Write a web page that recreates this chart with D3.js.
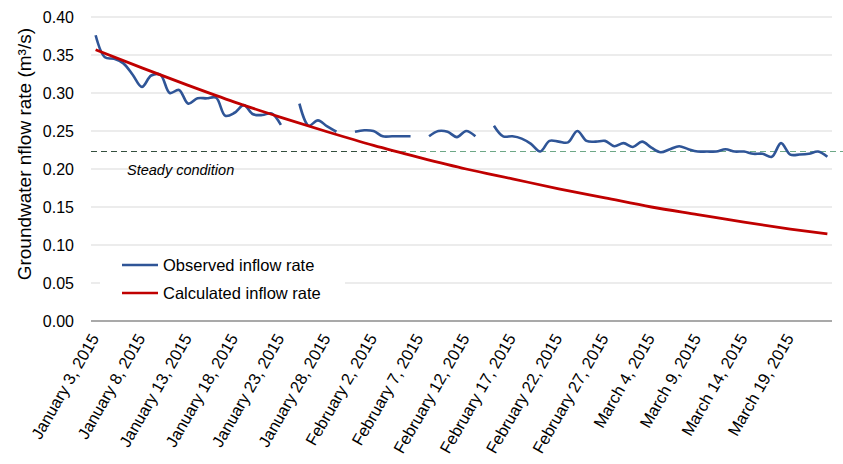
<!DOCTYPE html>
<html>
<head>
<meta charset="utf-8">
<script src="https://cdn.jsdelivr.net/npm/d3@7"></script>
<style>
  html, body { margin: 0; padding: 0; background: #fff; }
  svg { display: block; }
  text { font-family: "Liberation Sans", Arial, sans-serif; fill: #000; }
</style>
</head>
<body>
<svg id="chart" width="843" height="464"></svg>
<script>
// ---------------- DATA ----------------
const startDate = new Date(2015, 0, 3);
const dayCount = 80; // Jan 3 .. Mar 23, 2015

const tickLabels = [
  "January 3, 2015", "January 8, 2015", "January 13, 2015", "January 18, 2015",
  "January 23, 2015", "January 28, 2015", "February 2, 2015", "February 7, 2015",
  "February 12, 2015", "February 17, 2015", "February 22, 2015", "February 27, 2015",
  "March 4, 2015", "March 9, 2015", "March 14, 2015", "March 19, 2015"
];
const tickDays = [0, 5, 10, 15, 20, 25, 30, 35, 40, 45, 50, 55, 60, 65, 70, 75];

// Observed inflow rate (m3/s), one value per day, null = no data
const observed = [
  0.376, 0.347, 0.345, 0.339, 0.324, 0.308, 0.323, 0.324, 0.300, 0.304,
  0.286, 0.293, 0.293, 0.294, 0.270, 0.274, 0.284, 0.272, 0.271, 0.273,
  0.258, null,  0.286, 0.257, 0.264, 0.256, 0.249, null,  0.249, 0.251,
  0.250, 0.243, 0.243, 0.243, 0.243, null,  0.243, 0.250, 0.249, 0.242,
  0.250, 0.243, null,  0.257, 0.243, 0.243, 0.240, 0.233, 0.223, 0.237,
  0.236, 0.235, 0.250, 0.237, 0.236, 0.237, 0.230, 0.234, 0.229, 0.236,
  0.228, 0.222, 0.226, 0.230, 0.226, 0.223, 0.223, 0.223, 0.226, 0.223,
  0.223, 0.220, 0.220, 0.216, 0.234, 0.219, 0.219, 0.220, 0.223, 0.216
];

// Calculated inflow rate (m3/s) read at selected days
const calcDays   = [0, 5, 10, 15, 20, 25, 30, 35, 40, 45, 50, 55, 60, 65, 70, 75, 79];
const calcValues = [0.357, 0.333, 0.310, 0.288, 0.268, 0.249, 0.231, 0.215, 0.200, 0.187,
                    0.174, 0.162, 0.150, 0.140, 0.130, 0.121, 0.1145];

const steadyValue = 0.223;
const yTicks = [0, 0.05, 0.10, 0.15, 0.20, 0.25, 0.30, 0.35, 0.40];

const seriesNames = ["Observed inflow rate", "Calculated inflow rate"];
const seriesColors = ["#2f5597", "#c00000"];

// ---------------- LAYOUT ----------------
const plot = { left: 91, right: 832, top: 17, bottom: 321 };
const svg = d3.select("#chart");

const x = d3.scaleLinear().domain([-0.5, dayCount - 0.5]).range([plot.left, plot.right]);
const y = d3.scaleLinear().domain([0, 0.40]).range([plot.bottom, plot.top]);

// gridlines
svg.append("g")
  .selectAll("line")
  .data(yTicks.filter(d => d > 0))
  .join("line")
  .attr("x1", plot.left).attr("x2", plot.right)
  .attr("y1", d => y(d)).attr("y2", d => y(d))
  .attr("stroke", "#d9d9d9").attr("stroke-width", 1.2);

// y axis labels
const yAxis = d3.axisLeft(y).tickValues(yTicks).tickFormat(d3.format(".2f")).tickSize(0).tickPadding(0);
const gy = svg.append("g").attr("transform", `translate(${plot.left - 17},0)`).call(yAxis);
gy.select(".domain").remove();
gy.selectAll("text")
  .style("font-family", '"Liberation Sans", Arial, sans-serif')
  .style("font-size", "16px").attr("fill", "#000");

// x axis baseline
svg.append("line")
  .attr("x1", plot.left).attr("x2", plot.right)
  .attr("y1", y(0)).attr("y2", y(0))
  .attr("stroke", "#8c8c8c").attr("stroke-width", 1.3);

// x labels
svg.append("g")
  .selectAll("text")
  .data(tickDays)
  .join("text")
  .attr("transform", d => `translate(${x(d) + 4},${plot.bottom + 17}) rotate(-60)`)
  .attr("text-anchor", "end")
  .style("font-size", "16.5px")
  .attr("fill", "#000")
  .text((d, i) => tickLabels[i]);

// steady condition dashed line
const steadyY = y(steadyValue);
svg.append("line")
  .attr("x1", plot.left).attr("x2", 398)
  .attr("y1", steadyY).attr("y2", steadyY)
  .attr("stroke", "#35503f").attr("stroke-width", 1.2)
  .attr("stroke-dasharray", "6,4");
svg.append("line")
  .attr("x1", 400).attr("x2", 843)
  .attr("y1", steadyY).attr("y2", steadyY)
  .attr("stroke", "#6da887").attr("stroke-width", 1.2)
  .attr("stroke-dasharray", "6,4");
svg.append("text")
  .attr("x", 127).attr("y", steadyY + 23)
  .style("font-size", "14.5px").style("font-style", "italic")
  .attr("fill", "#1e6b3a")
  .text("Steady condition");

// observed line
const obsLine = d3.line()
  .defined(d => d.v !== null)
  .x(d => x(d.i)).y(d => y(d.v))
  .curve(d3.curveCatmullRom.alpha(0.5));
svg.append("path")
  .datum(observed.map((v, i) => ({ i, v })))
  .attr("d", obsLine)
  .attr("fill", "none").attr("stroke", seriesColors[0])
  .attr("stroke-width", 2.6).attr("stroke-linejoin", "round");

// calculated line
const calcLine = d3.line()
  .x(d => x(d.i)).y(d => y(d.v))
  .curve(d3.curveMonotoneX);
svg.append("path")
  .datum(calcDays.map((i, k) => ({ i, v: calcValues[k] })))
  .attr("d", calcLine)
  .attr("fill", "none").attr("stroke", seriesColors[1])
  .attr("stroke-width", 2.8);

// legend
const lg = svg.append("g");
lg.append("rect").attr("x", 100).attr("y", 249).attr("width", 245).attr("height", 60).attr("fill", "#fff");
seriesNames.forEach((name, k) => {
  const ly = 265 + k * 28;
  lg.append("line").attr("x1", 122).attr("x2", 158).attr("y1", ly).attr("y2", ly)
    .attr("stroke", seriesColors[k]).attr("stroke-width", 2.6);
  lg.append("text").attr("x", 163).attr("y", ly + 6)
    .style("font-size", "16.5px").attr("fill", "#000").text(name);
});

// y axis title
svg.append("text")
  .attr("transform", `translate(31,${plot.top + 11}) rotate(-90)`)
  .attr("text-anchor", "end")
  .style("font-size", "19px")
  .attr("fill", "#000")
  .text("Groundwater nflow rate (m\u00b3/s)");
</script>
</body>
</html>
